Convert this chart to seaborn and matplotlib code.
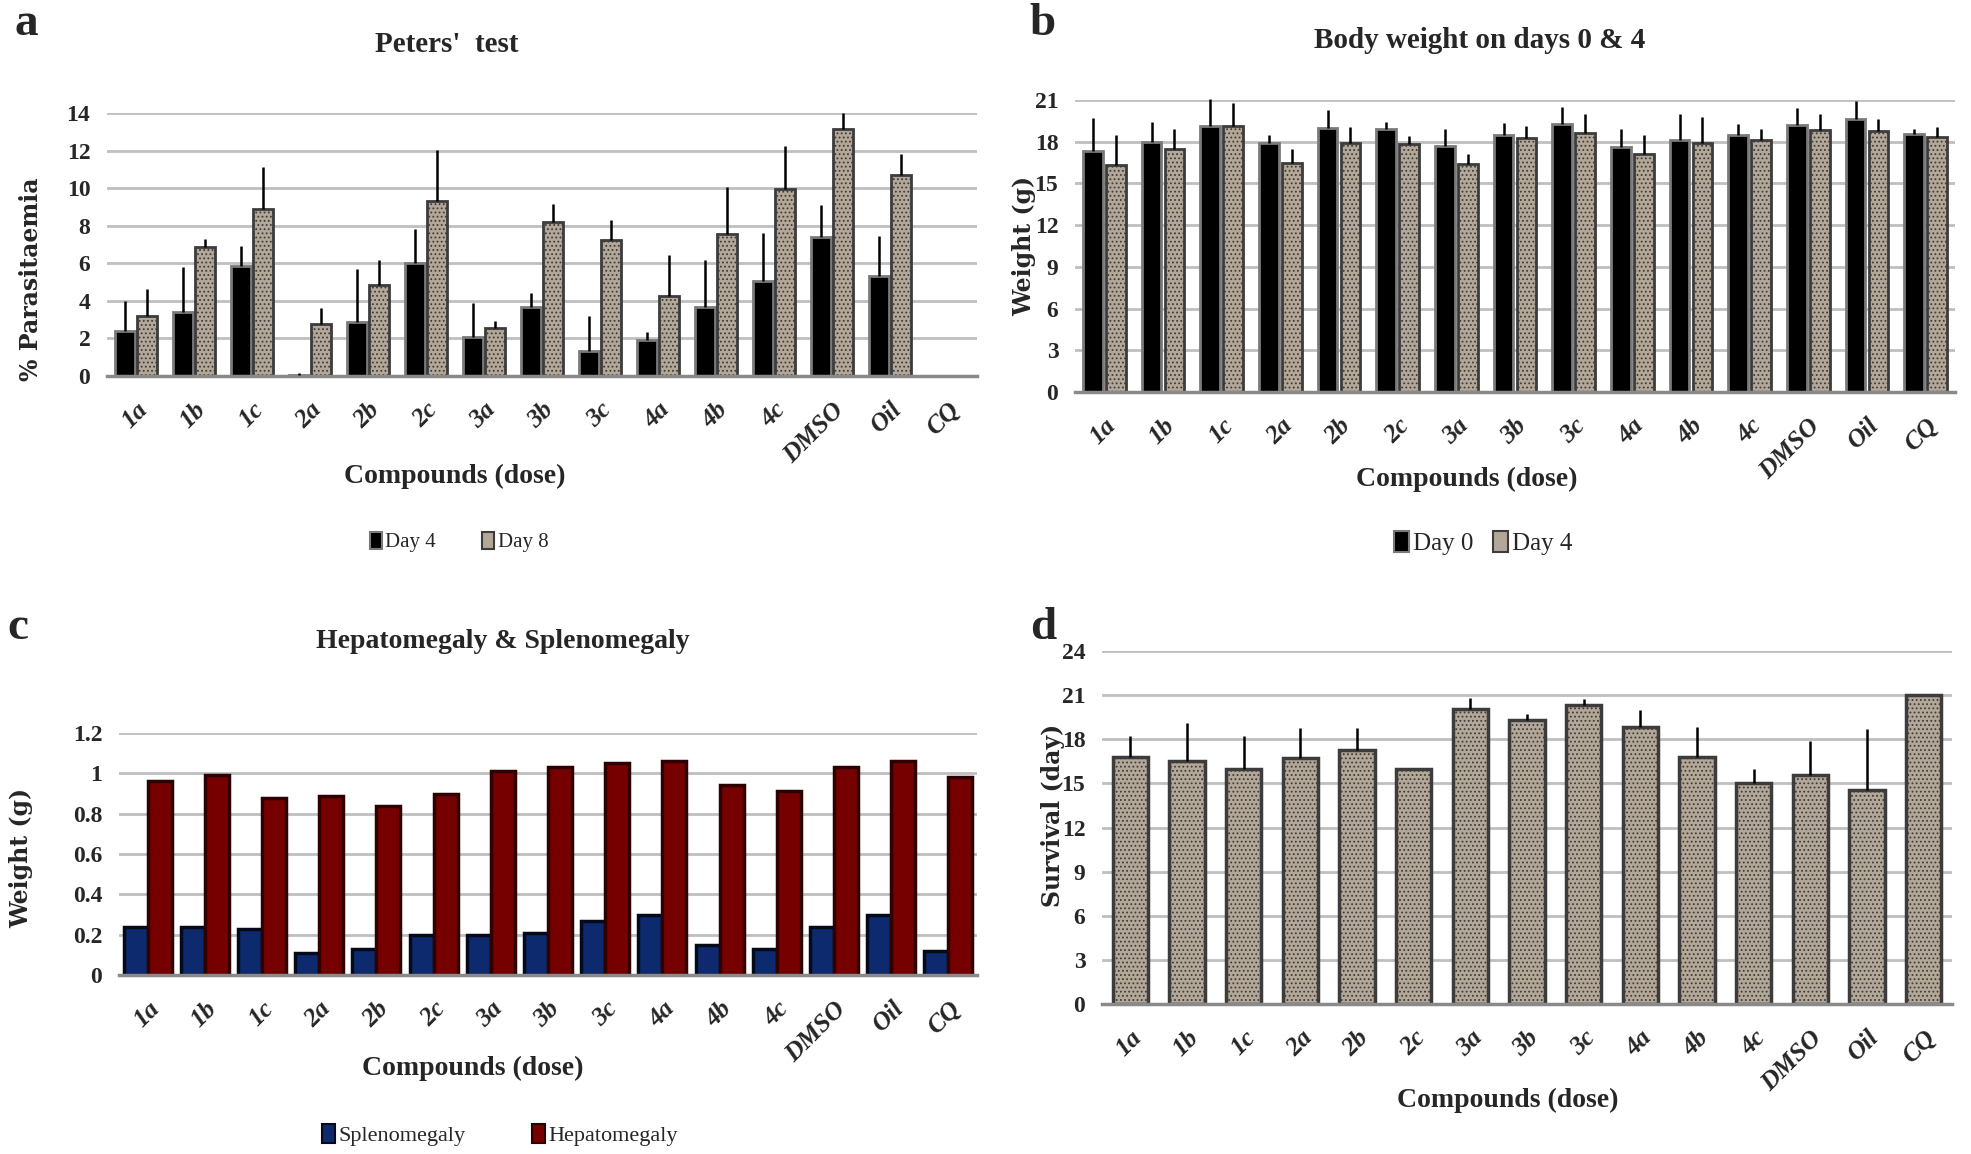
import numpy as np
import pandas as pd
import matplotlib
matplotlib.use("Agg")
import matplotlib.pyplot as plt
import seaborn as sns
from matplotlib.patches import Patch

# ---------------- data ----------------
compounds = ['1a', '1b', '1c', '2a', '2b', '2c', '3a', '3b', '3c', '4a', '4b', '4c', 'DMSO', 'Oil', 'CQ']

# (a) Peters' test, % parasitaemia
para_day4 = [2.4, 3.4, 5.85, 0.05, 2.9, 6.0, 2.1, 3.65, 1.35, 1.9, 3.65, 5.05, 7.4, 5.3, 0.0]
para_day4_err = [1.6, 2.4, 1.05, 0.1, 2.8, 1.8, 1.8, 0.75, 1.85, 0.45, 2.5, 2.55, 1.7, 2.15, 0.0]
para_day8 = [3.2, 6.85, 8.9, 2.75, 4.85, 9.3, 2.55, 8.2, 7.25, 4.25, 7.55, 9.95, 13.15, 10.7, 0.0]
para_day8_err = [1.45, 0.45, 2.2, 0.85, 1.3, 2.75, 0.4, 0.95, 1.05, 2.2, 2.5, 2.3, 0.85, 1.1, 0.0]

# (b) body weight (g)
bw_day0 = [17.3, 18.0, 19.1, 17.9, 19.0, 18.9, 17.7, 18.45, 19.3, 17.6, 18.1, 18.5, 19.2, 19.6, 18.55]
bw_day0_err = [2.4, 1.4, 1.95, 0.6, 1.3, 0.55, 1.2, 0.9, 1.2, 1.3, 1.9, 0.8, 1.25, 1.35, 0.4]
bw_day4 = [16.35, 17.45, 19.1, 16.45, 17.9, 17.85, 16.4, 18.3, 18.6, 17.1, 17.9, 18.1, 18.85, 18.75, 18.35]
bw_day4_err = [2.15, 1.5, 1.7, 1.0, 1.15, 0.55, 0.75, 0.85, 1.4, 1.35, 1.85, 0.85, 1.15, 0.9, 0.7]

# (c) organ weight (g)
spleen = [0.24, 0.24, 0.23, 0.11, 0.13, 0.20, 0.20, 0.21, 0.27, 0.30, 0.15, 0.13, 0.24, 0.30, 0.12]
liver = [0.96, 0.99, 0.88, 0.89, 0.84, 0.90, 1.01, 1.03, 1.05, 1.06, 0.94, 0.91, 1.03, 1.06, 0.98]

# (d) survival (day)
survival = [16.8, 16.5, 16.0, 16.7, 17.25, 16.0, 20.05, 19.3, 20.3, 18.8, 16.8, 15.05, 15.55, 14.55, 21.0]
survival_err = [1.45, 2.6, 2.25, 2.05, 1.5, 0.0, 0.75, 0.45, 0.45, 1.2, 2.0, 0.9, 2.3, 4.15, 0.0]

# ---------------- style ----------------
sns.set_style("white")
plt.rcParams['font.family'] = ['Liberation Serif', 'DejaVu Serif']
plt.rcParams['font.weight'] = 'bold'
plt.rcParams['hatch.linewidth'] = 0.8

W, H = 1971, 1154
fig = plt.figure(figsize=(W / 100, H / 100), dpi=100)

TEX = '#b3a797'      # granite-like texture colour
TEX_EDGE = '#3c3c3c'
TEX_HATCH = '....'
GRID = '#bfbfbf'
AXLINE = '#8a8a8a'


def fx(x):
    return x / W


def fy(y):
    return 1 - y / H


def make_ax(x0, y0, x1, y1):
    return fig.add_axes([fx(x0), fy(y1), fx(x1) - fx(x0), (y1 - y0) / H])


def style_ax(ax, ylim, yticks, ylabel, ylabel_x, ylabel_y, ticklabels_fmt=None):
    ax.set_ylim(*ylim)
    ax.set_xlim(-0.5, len(compounds) - 0.5)
    ax.set_yticks(yticks)
    if ticklabels_fmt is not None:
        ax.set_yticklabels([ticklabels_fmt(v) for v in yticks])
    ax.yaxis.grid(True, color=GRID, lw=2.0)
    ax.set_axisbelow(True)
    for s in ['top', 'right', 'left']:
        ax.spines[s].set_visible(False)
    ax.spines['bottom'].set_color(AXLINE)
    ax.spines['bottom'].set_linewidth(2.5)
    ax.tick_params(axis='both', length=0)
    ax.tick_params(axis='y', labelsize=17, pad=12)
    ax.set_xticks(range(len(compounds)))
    ax.set_xticklabels(compounds, rotation=45, ha='right', rotation_mode='anchor',
                       fontsize=18.5, fontstyle='italic', fontweight='bold')
    ax.tick_params(axis='x', pad=16)
    ax.set_xlabel('')
    ax.set_ylabel('')
    fig.text(fx(ylabel_x), fy(ylabel_y), ylabel, rotation=90, ha='center', va='center',
             fontsize=17, fontweight='bold', family='DejaVu Serif')


def add_err(ax, container, errs, lw=1.8):
    xs = [p.get_x() + p.get_width() / 2 for p in container.patches]
    hs = [p.get_height() for p in container.patches]
    ax.errorbar(xs, hs, yerr=[np.zeros(len(errs)), errs], fmt='none', ecolor='black',
                elinewidth=lw, capsize=0, clip_on=False, zorder=3)


def texture(patches, lw=2):
    for p in patches:
        p.set_edgecolor(TEX_EDGE)
        p.set_linewidth(lw)
        p.set_hatch(TEX_HATCH)


# ---------------- panel a ----------------
ax_a = make_ax(107, 113, 977, 376)
df_a = pd.DataFrame({
    'compound': compounds * 2,
    'value': para_day4 + para_day8,
    'day': ['Day 4'] * len(compounds) + ['Day 8'] * len(compounds),
})
sns.barplot(data=df_a, x='compound', y='value', hue='day', hue_order=['Day 4', 'Day 8'],
            order=compounds, palette=['black', TEX], width=0.78, gap=0.12,
            errorbar=None, legend=False, ax=ax_a, saturation=1)
for p in ax_a.containers[0].patches:
    p.set_edgecolor('#7a7a7a'); p.set_linewidth(2)
texture(ax_a.containers[1].patches)
add_err(ax_a, ax_a.containers[0], para_day4_err)
add_err(ax_a, ax_a.containers[1], para_day8_err)
style_ax(ax_a, (0, 14), np.arange(0, 15, 2), '% Parasitaemia', 31, 279)

fig.text(fx(26), fy(24), 'a', fontsize=34, fontweight='bold', ha='center', va='center')
fig.text(fx(447), fy(44), "Peters'  test", fontsize=21, fontweight='bold', ha='center', va='center')
fig.text(fx(455), fy(476), 'Compounds (dose)', fontsize=20, fontweight='bold', ha='center', va='center')
fig.legend(handles=[Patch(facecolor='black', edgecolor='#7a7a7a', lw=1.5),
                    Patch(facecolor=TEX, edgecolor=TEX_EDGE, lw=1.5)],
           labels=['Day 4', 'Day 8'], loc='center', bbox_to_anchor=(fx(459), fy(542)),
           ncol=2, frameon=False, handlelength=0.6, handleheight=0.9, handletextpad=0.15,
           columnspacing=2.2, prop={'family': 'Liberation Serif', 'weight': 'normal', 'size': 15})

# ---------------- panel b ----------------
ax_b = make_ax(1075, 100, 1955, 392)
df_b = pd.DataFrame({
    'compound': compounds * 2,
    'value': bw_day0 + bw_day4,
    'day': ['Day 0'] * len(compounds) + ['Day 4'] * len(compounds),
})
sns.barplot(data=df_b, x='compound', y='value', hue='day', hue_order=['Day 0', 'Day 4'],
            order=compounds, palette=['black', TEX], width=0.78, gap=0.14,
            errorbar=None, legend=False, ax=ax_b, saturation=1)
for p in ax_b.containers[0].patches:
    p.set_edgecolor('#7a7a7a'); p.set_linewidth(2)
texture(ax_b.containers[1].patches)
add_err(ax_b, ax_b.containers[0], bw_day0_err)
add_err(ax_b, ax_b.containers[1], bw_day4_err)
style_ax(ax_b, (0, 21), np.arange(0, 22, 3), 'Weight (g)', 1024, 246)

fig.text(fx(1043), fy(24), 'b', fontsize=34, fontweight='bold', ha='center', va='center')
fig.text(fx(1480), fy(40), 'Body weight on days 0 & 4', fontsize=21, fontweight='bold',
         ha='center', va='center')
fig.text(fx(1467), fy(479), 'Compounds (dose)', fontsize=20, fontweight='bold', ha='center', va='center')
fig.legend(handles=[Patch(facecolor='black', edgecolor='#7a7a7a', lw=1.5),
                    Patch(facecolor=TEX, edgecolor=TEX_EDGE, lw=1.5)],
           labels=['Day 0', 'Day 4'], loc='center', bbox_to_anchor=(fx(1483), fy(543)),
           ncol=2, frameon=False, handlelength=0.6, handleheight=0.9, handletextpad=0.15,
           columnspacing=0.8, prop={'family': 'Liberation Serif', 'weight': 'normal', 'size': 18})

# ---------------- panel c ----------------
ax_c = make_ax(119, 733, 977, 975)
df_c = pd.DataFrame({
    'compound': compounds * 2,
    'value': spleen + liver,
    'organ': ['Splenomegaly'] * len(compounds) + ['Hepatomegaly'] * len(compounds),
})
sns.barplot(data=df_c, x='compound', y='value', hue='organ',
            hue_order=['Splenomegaly', 'Hepatomegaly'], order=compounds,
            palette=['#0d2a6e', '#760000'], width=0.84, gap=0.0,
            errorbar=None, legend=False, ax=ax_c, saturation=1)
for p in ax_c.containers[0].patches:
    p.set_edgecolor('#050a1a'); p.set_linewidth(2.5)
for p in ax_c.containers[1].patches:
    p.set_edgecolor('#2e0000'); p.set_linewidth(2.5)
style_ax(ax_c, (0, 1.2), [0, 0.2, 0.4, 0.6, 0.8, 1.0, 1.2], 'Weight (g)', 21, 858,
         ticklabels_fmt=lambda v: f'{v:g}')

fig.text(fx(18), fy(628), 'c', fontsize=34, fontweight='bold', ha='center', va='center')
fig.text(fx(503), fy(642), 'Hepatomegaly & Splenomegaly', fontsize=20, fontweight='bold',
         ha='center', va='center')
fig.text(fx(473), fy(1068), 'Compounds (dose)', fontsize=20, fontweight='bold', ha='center', va='center')
fig.legend(handles=[Patch(facecolor='#0d2a6e', edgecolor='#050a1a', lw=1.5),
                    Patch(facecolor='#760000', edgecolor='#2e0000', lw=1.5)],
           labels=['Splenomegaly', 'Hepatomegaly'], loc='center', bbox_to_anchor=(fx(500), fy(1135)),
           ncol=2, frameon=False, handlelength=0.6, handleheight=0.9, handletextpad=0.15,
           columnspacing=3.0, prop={'family': 'Liberation Serif', 'weight': 'normal', 'size': 16})

# ---------------- panel d ----------------
ax_d = make_ax(1102, 651, 1952, 1004)
df_d = pd.DataFrame({'compound': compounds, 'value': survival})
sns.barplot(data=df_d, x='compound', y='value', order=compounds, color=TEX, width=0.62,
            errorbar=None, ax=ax_d, saturation=1)
texture(ax_d.containers[0].patches, lw=2.5)
add_err(ax_d, ax_d.containers[0], survival_err)
style_ax(ax_d, (0, 24), np.arange(0, 25, 3), 'Survival (day)', 1053, 815)

fig.text(fx(1043), fy(628), 'd', fontsize=34, fontweight='bold', ha='center', va='center')
fig.text(fx(1508), fy(1100), 'Compounds (dose)', fontsize=20, fontweight='bold', ha='center', va='center')

fig.savefig('out.png', dpi=100, facecolor='white')
